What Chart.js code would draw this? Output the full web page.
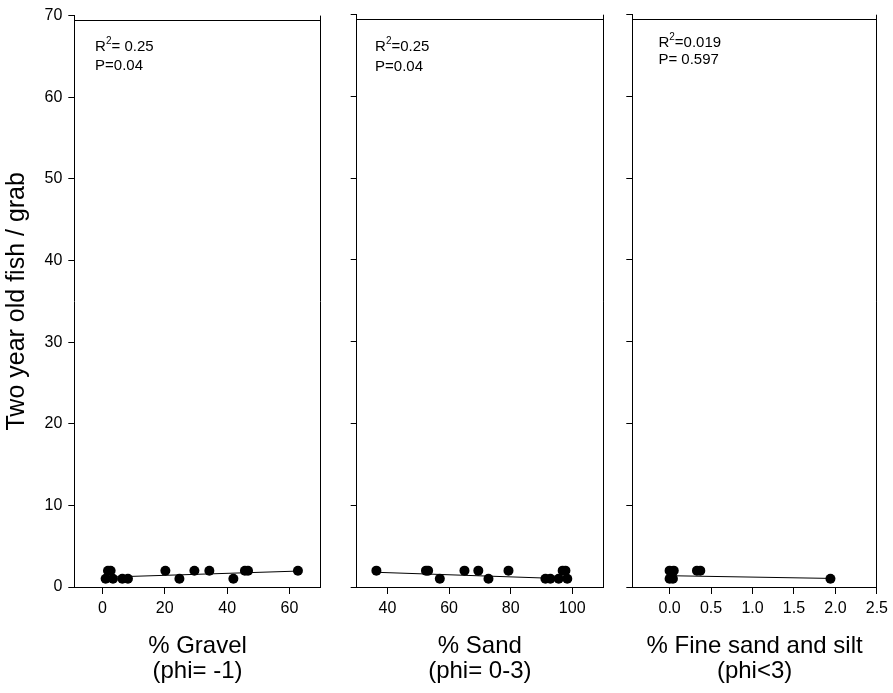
<!DOCTYPE html>
<html>
<head>
<meta charset="utf-8">
<script src="https://cdn.jsdelivr.net/npm/chart.js@4.4.1/dist/chart.umd.min.js"></script>
<style>
  html, body { margin: 0; padding: 0; background: #fff; }
  #wrap { position: relative; width: 893px; height: 693px; }
  #wrap canvas { position: absolute; left: 0; top: 0; }
</style>
</head>
<body>
<div id="wrap">
  <canvas id="gravel" width="893" height="693"></canvas>
  <canvas id="sand" width="893" height="693"></canvas>
  <canvas id="fine" width="893" height="693"></canvas>
</div>
<script>
// Shared y axis: two year old fish per grab
const fishTicks = [0, 10, 20, 30, 40, 50, 60, 70];

// % Gravel (phi = -1)
const gravelPct  = [1.8, 2.65, 20.2, 29.5, 34.3, 45.7, 46.7, 62.7, 1.05, 3.4, 6.4, 8.2, 24.7, 42.0];
const gravelFish = [2, 2, 2, 2, 2, 2, 2, 2, 1, 1, 1, 1, 1, 1];
const gravelFitX = [1.05, 62.7];
const gravelFitY = [1.2, 1.95];
const gravelTicks = [0, 20, 40, 60];

// % Sand (phi = 0-3)
const sandPct  = [36.4, 52.5, 53.2, 65.0, 69.5, 79.3, 96.9, 97.8, 57.0, 72.8, 91.3, 92.9, 95.6, 98.4];
const sandFish = [2, 2, 2, 2, 2, 2, 2, 2, 1, 1, 1, 1, 1, 1];
const sandFitX = [36.4, 98.4];
const sandFitY = [1.8, 1.0];
const sandTicks = [40, 60, 80, 100];

// % Fine sand and silt (phi < 3)
const finePct  = [0.0, 0.05, 0.33, 0.37, 0.0, 0.04, 1.94];
const fineFish = [2, 2, 2, 2, 1, 1, 1];
const fineFitX = [0.0, 1.94];
const fineFitY = [1.38, 1.05];
const fineTicks = [0.0, 0.5, 1.0, 1.5, 2.0, 2.5];

const FONT = '"Liberation Sans", Arial, Helvetica, sans-serif';

// Box lines on the top and right of each panel
const framePlugin = {
  id: 'frame',
  afterDraw(chart) {
    const { ctx, chartArea: a } = chart;
    const top = Math.floor(a.top + 5) + 0.5;
    const right = Math.floor(a.right) + 0.5;
    ctx.save();
    ctx.strokeStyle = '#000';
    ctx.lineWidth = 1;
    ctx.beginPath();
    ctx.moveTo(a.left, top);
    ctx.lineTo(right, top);
    ctx.moveTo(right, a.top);
    ctx.lineTo(right, a.bottom + 0.5);
    ctx.stroke();
    ctx.restore();
  }
};

// Regression statistics in the upper left of a panel
const statPlugin = {
  id: 'statText',
  afterDraw(chart, args, o) {
    if (!o || !o.r2) return;
    const { ctx, chartArea: a } = chart;
    const x = a.left + o.dx;
    ctx.save();
    ctx.fillStyle = '#000';
    ctx.textAlign = 'left';
    ctx.textBaseline = 'alphabetic';
    ctx.font = '15px ' + FONT;
    ctx.fillText('R', x, o.y1);
    let w = ctx.measureText('R').width;
    ctx.font = '10px ' + FONT;
    ctx.fillText('2', x + w, o.y1 - 7);
    w += ctx.measureText('2').width;
    ctx.font = '15px ' + FONT;
    ctx.fillText(o.r2, x + w, o.y1);
    ctx.fillText(o.p, x, o.y2);
    ctx.restore();
  }
};

function toPoints(xs, ys) {
  return xs.map((v, i) => ({ x: v, y: ys[i] }));
}

function makePanel(id, p) {
  const yAxis = {
    type: 'linear',
    position: 'left',
    min: 0,
    max: 70,
    afterBuildTicks(scale) { scale.ticks = fishTicks.map(v => ({ value: v })); },
    afterFit(scale) { scale.width = p.yWidth; },
    border: { display: true, color: '#000', width: 1 },
    grid: { display: true, drawOnChartArea: false, drawTicks: true, tickLength: 6, color: '#000', tickColor: '#000' },
    ticks: {
      display: p.showY,
      padding: 6,
      color: '#000',
      font: { family: FONT, size: 16 },
      callback: v => String(v)
    },
    title: {
      display: p.showY,
      text: 'Two year old fish / grab',
      color: '#000',
      font: { family: FONT, size: 25 },
      padding: { top: 2.3, bottom: 0 }
    }
  };

  const xAxis = {
    type: 'linear',
    position: 'bottom',
    min: p.xMin,
    max: p.xMax,
    afterBuildTicks(scale) { scale.ticks = p.ticks.map(v => ({ value: v })); },
    afterFit(scale) { scale.height = 106; },
    border: { display: true, color: '#000', width: 1 },
    grid: { display: true, drawOnChartArea: false, drawTicks: true, tickLength: 7, color: '#000', tickColor: '#000' },
    ticks: {
      padding: 5,
      color: '#000',
      maxRotation: 0,
      autoSkip: false,
      font: { family: FONT, size: 16 },
      callback: v => Number(v).toFixed(p.decimals)
    },
    title: {
      display: true,
      text: p.title,
      color: '#000',
      font: { family: FONT, size: 24, lineHeight: 1.06 },
      padding: { top: 0, bottom: 8.5 }
    }
  };

  return new Chart(document.getElementById(id), {
    type: 'scatter',
    data: {
      datasets: [
        {
          data: toPoints(p.xs, p.ys),
          pointRadius: 5,
          pointHoverRadius: 5,
          pointBackgroundColor: '#000',
          pointBorderColor: '#000',
          pointBorderWidth: 0,
          showLine: false
        },
        {
          data: toPoints(p.fitX, p.fitY),
          showLine: true,
          borderColor: '#000',
          borderWidth: 1,
          pointRadius: 0,
          fill: false
        }
      ]
    },
    options: {
      responsive: false,
      animation: false,
      devicePixelRatio: 1,
      events: [],
      layout: { padding: { left: p.padLeft, right: p.padRight, top: 14.7, bottom: 0 } },
      plugins: {
        legend: { display: false },
        tooltip: { enabled: false },
        statText: p.stat
      },
      scales: { x: xAxis, y: yAxis }
    },
    plugins: [framePlugin, statPlugin]
  });
}

makePanel('gravel', {
  xs: gravelPct, ys: gravelFish, fitX: gravelFitX, fitY: gravelFitY,
  xMin: -9, xMax: 70, ticks: gravelTicks, decimals: 0,
  title: ['% Gravel', '(phi= -1)'],
  showY: true, yWidth: 74.3, padLeft: 0, padRight: 893 - 320.7,
  stat: { r2: '= 0.25', p: 'P=0.04', dx: 20.8, y1: 50.7, y2: 70.3 }
});

makePanel('sand', {
  xs: sandPct, ys: sandFish, fitX: sandFitX, fitY: sandFitY,
  xMin: 30, xMax: 110, ticks: sandTicks, decimals: 0,
  title: ['% Sand', '(phi= 0-3)'],
  showY: false, yWidth: 6, padLeft: 350.7, padRight: 893 - 603,
  stat: { r2: '=0.25', p: 'P=0.04', dx: 18.4, y1: 50.7, y2: 70.7 }
});

makePanel('fine', {
  xs: finePct, ys: fineFish, fitX: fineFitX, fitY: fineFitY,
  xMin: -0.45, xMax: 2.5, ticks: fineTicks, decimals: 1,
  title: ['% Fine sand and silt', '(phi<3)'],
  showY: false, yWidth: 6, padLeft: 626.3, padRight: 893 - 879.3,
  stat: { r2: '=0.019', p: 'P= 0.597', dx: 26.1, y1: 46.7, y2: 64 }
});
</script>
</body>
</html>
